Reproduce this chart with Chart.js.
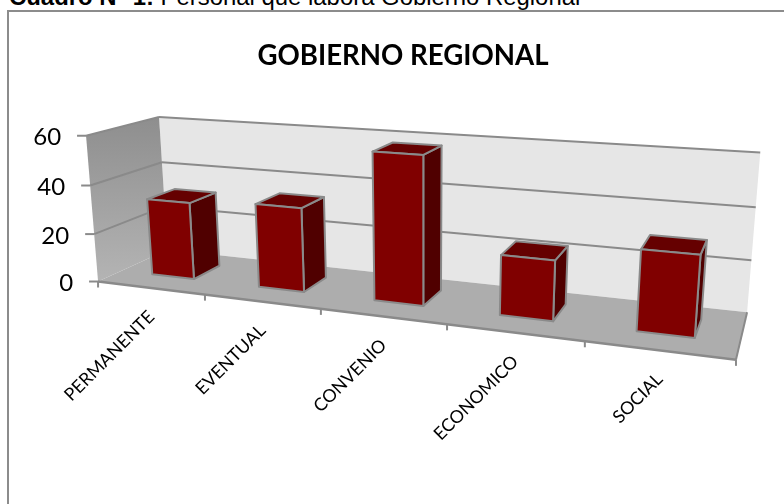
<!DOCTYPE html>
<html lang="es">
<head>
<meta charset="utf-8">
<title>Gobierno Regional</title>
<style>
  html, body { margin: 0; height: 100%; background: #fff; overflow: hidden; }
  #caption {
    position: absolute; left: 9px; top: -17px; white-space: nowrap;
    font: 23.9px/27px "Liberation Sans", Arial, sans-serif; color: #000;
  }
  #frame {
    position: absolute; left: 7px; top: 10px; width: 900px; height: 600px;
    border: 2px solid #8c8c8c;
  }
  #chart { position: absolute; left: 0; top: 0; }
</style>
<script src="https://cdn.jsdelivr.net/npm/chart.js@4.4.3/dist/chart.umd.min.js"></script>
</head>
<body>
<div id="caption"><b>Cuadro N° 1:</b> Personal que labora Gobierno Regional</div>
<div id="frame"></div>
<canvas id="chart" width="806" height="504"></canvas>
<script>
"use strict";

/* ── Data ─────────────────────────────────────────────────────────────── */
const categories = ["PERMANENTE", "EVENTUAL", "CONVENIO", "ECONOMICO", "SOCIAL"];
const personal   = [32, 34, 58, 23, 30];
const yMax       = 60;
const yStep      = 20;

/* ── Colours ──────────────────────────────────────────────────────────── */
const COL = {
  back: "#e6e6e6", floor: "#adadad", wallTop: "#8e8e8e", wallBottom: "#b4b4b4",
  grid: "#8a8a8a", edge: "#8a8a8a",
  front: "#800000", side: "#500000", top: "#650000",
};
const BAR_DEPTH = [0.32, 0.72];   // front and back of a bar, 0 = front of floor

/* ── Camera: fitted once to the corners of the 3D box ─────────────────── */
// each row: u (along categories), v (up, share of y range), d (depth), screen x, y
const CALIBRATION = [
  [0, 1, 0, 85, 135], [0, 2 / 3, 0, 91, 185], [0, 1 / 3, 0, 95, 232], [0, 0, 0, 98, 280],
  [0, 1, 1, 159, 118], [0, 2 / 3, 1, 162, 163], [0, 0, 1, 167, 249],
  [1, 1, 1, 760, 153], [1, 2 / 3, 1, 756, 207], [1, 1 / 3, 1, 752, 260], [1, 0, 1, 747, 311],
  [1, 0, 0, 736, 357], [0.2, 0, 0, 205, 297], [0.4, 0, 0, 321, 310],
  [0.6, 0, 0, 447, 327], [0.8, 0, 0, 584, 343],
];

function solveCamera(rows) {
  const n = 11;
  const A = Array.from({ length: n }, () => new Array(n + 1).fill(0));
  const addRow = (c, rhs) => {
    for (let i = 0; i < n; i++) {
      for (let j = 0; j < n; j++) A[i][j] += c[i] * c[j];
      A[i][n] += c[i] * rhs;
    }
  };
  rows.forEach(([u, v, d, x, y]) => {
    addRow([u, v, d, 1, 0, 0, 0, 0, -x * u, -x * v, -x * d], x);
    addRow([0, 0, 0, 0, u, v, d, 1, -y * u, -y * v, -y * d], y);
  });
  for (let c = 0; c < n; c++) {
    let best = c;
    for (let r = c + 1; r < n; r++) if (Math.abs(A[r][c]) > Math.abs(A[best][c])) best = r;
    [A[c], A[best]] = [A[best], A[c]];
    for (let r = 0; r < n; r++) {
      if (r === c) continue;
      const f = A[r][c] / A[c][c];
      for (let k = c; k <= n; k++) A[r][k] -= f * A[c][k];
    }
  }
  return A.map((row, i) => row[n] / row[i]);
}

const cam = solveCamera(CALIBRATION);

function project(u, v, d) {
  const w = cam[8] * u + cam[9] * v + cam[10] * d + 1;
  return [
    (cam[0] * u + cam[1] * v + cam[2] * d + cam[3]) / w,
    (cam[4] * u + cam[5] * v + cam[6] * d + cam[7]) / w,
  ];
}

/* ── Drawing helpers ──────────────────────────────────────────────────── */
function poly(ctx, pts, fill, stroke, lw) {
  ctx.beginPath();
  pts.forEach((p, i) => (i ? ctx.lineTo(p[0], p[1]) : ctx.moveTo(p[0], p[1])));
  ctx.closePath();
  if (fill) { ctx.fillStyle = fill; ctx.fill(); }
  if (stroke) { ctx.strokeStyle = stroke; ctx.lineWidth = lw; ctx.lineJoin = "round"; ctx.stroke(); }
}

function line(ctx, a, b, color, lw) {
  ctx.beginPath();
  ctx.moveTo(a[0], a[1]);
  ctx.lineTo(b[0], b[1]);
  ctx.strokeStyle = color;
  ctx.lineWidth = lw;
  ctx.stroke();
}

/* ── The 3D scene, driven by the chart's own scales ───────────────────── */
const scene3d = {
  id: "scene3d",
  beforeDatasetsDraw(chart) {
    const { ctx, scales: { x: xs, y: ys } } = chart;
    const toU = (px) => (px - xs.left) / xs.width;
    const toV = (py) => (ys.bottom - py) / ys.height;
    ctx.save();

    // walls and floor
    poly(ctx, [project(0, 0, 1), project(1, 0, 1), project(1, 1, 1), project(0, 1, 1)], COL.back);
    const wallGrad = ctx.createLinearGradient(0, project(0, 1, 1)[1], 0, project(0, 0, 0)[1]);
    wallGrad.addColorStop(0, COL.wallTop);
    wallGrad.addColorStop(1, COL.wallBottom);
    poly(ctx, [project(0, 0, 0), project(0, 0, 1), project(0, 1, 1), project(0, 1, 0)], wallGrad);
    poly(ctx, [project(0, 0, 0), project(1, 0, 0), project(1, 0, 1), project(0, 0, 1)], COL.floor);

    // y gridlines, ticks and labels
    ctx.font = '24px Lato, "Noto Sans", sans-serif';
    ctx.textAlign = "right";
    ctx.textBaseline = "middle";
    ys.ticks.forEach((t) => {
      const v = toV(ys.getPixelForValue(t.value));
      const f = project(0, v, 0);
      if (v > 0) {
        line(ctx, f, project(0, v, 1), COL.grid, 2);
        line(ctx, project(0, v, 1), project(1, v, 1), COL.grid, 2);
      }
      line(ctx, [f[0] - 9, f[1]], f, COL.edge, 2);
      ctx.fillStyle = "#000";
      ctx.fillText(t.label, f[0] - 25, f[1] + 2);
    });

    // floor edges and category ticks
    line(ctx, project(0, 0, 0), project(1, 0, 0), COL.edge, 2.5);
    line(ctx, project(1, 0, 0), project(1, 0, 1), COL.edge, 2);
    for (let i = 0; i <= categories.length; i++) {
      const p = project(i / categories.length, 0, 0);
      line(ctx, p, [p[0], p[1] + 6], COL.edge, 2);
    }

    // bars
    const [d0, d1] = BAR_DEPTH;
    chart.getDatasetMeta(0).data.forEach((bar) => {
      const u0 = toU(bar.x - bar.width / 2);
      const u1 = toU(bar.x + bar.width / 2);
      const v = toV(bar.y);
      const v0 = toV(bar.base);
      poly(ctx, [project(u1, v0, d0), project(u1, v0, d1), project(u1, v, d1), project(u1, v, d0)], COL.side, COL.edge, 2);
      poly(ctx, [project(u0, v, d0), project(u1, v, d0), project(u1, v, d1), project(u0, v, d1)], COL.top, COL.edge, 2);
      poly(ctx, [project(u0, v0, d0), project(u1, v0, d0), project(u1, v, d0), project(u0, v, d0)], COL.front, COL.edge, 2);
    });

    // category labels, rotated along the front of the floor
    ctx.font = '17.8px Lato, "Noto Sans", sans-serif';
    ctx.fillStyle = "#000";
    ctx.textBaseline = "middle";
    categories.forEach((name, i) => {
      const p = project(toU(xs.getPixelForValue(i)), 0, 0);
      ctx.save();
      ctx.translate(p[0] + 1, p[1] + 26);
      ctx.rotate(-Math.PI / 4);
      ctx.fillText(xs.getLabelForValue(i), 0, 0);
      ctx.restore();
    });

    ctx.restore();
    return false;   // the flat bars are replaced by the boxes above
  },
};

/* ── Chart ────────────────────────────────────────────────────────────── */
new Chart(document.getElementById("chart"), {
  type: "bar",
  data: {
    labels: categories,
    datasets: [{
      label: "GOBIERNO REGIONAL",
      data: personal,
      backgroundColor: COL.front,
      barPercentage: 0.4,
      categoryPercentage: 1,
    }],
  },
  options: {
    responsive: false,
    animation: false,
    plugins: {
      legend: { display: false },
      tooltip: { enabled: false },
      title: {
        display: true,
        text: "GOBIERNO REGIONAL",
        color: "#000",
        font: { family: 'Lato, "Noto Sans", sans-serif', size: 27.6, weight: "bold" },
        padding: { top: 40, bottom: 10 },
      },
    },
    scales: {
      x: { display: false },
      y: { display: false, min: 0, max: yMax, ticks: { stepSize: yStep } },
    },
  },
  plugins: [scene3d],
});
</script>
</body>
</html>
